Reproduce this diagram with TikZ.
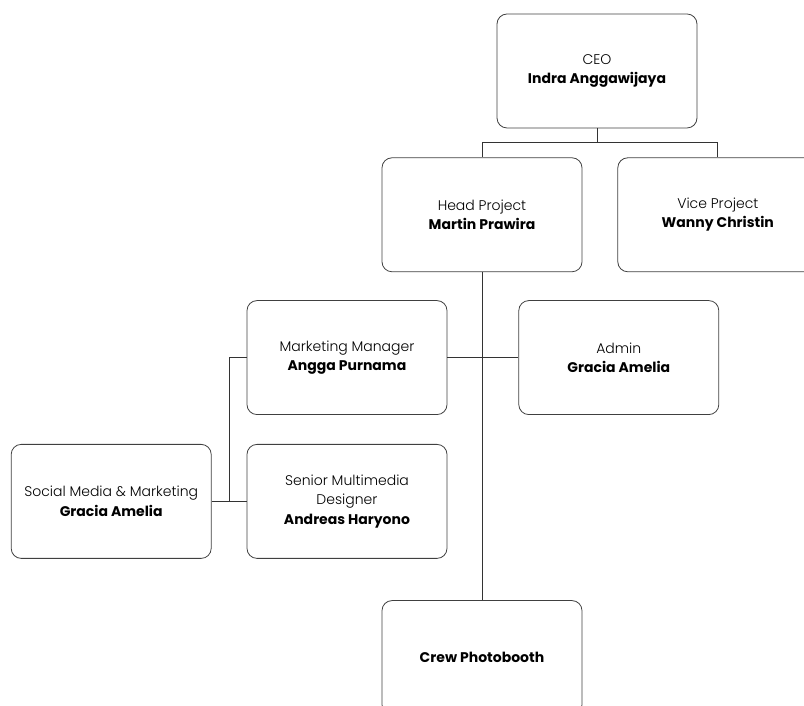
\documentclass[tikz,border=0pt]{standalone}
\usepackage{fontspec}
\setmainfont{Poppins}[UprightFont=* Light,BoldFont=* Bold]
\usetikzlibrary{positioning}
\tikzstyle{post}=[
	rectangle,
	rounded corners=10pt,
	draw=black!75,
	line width=0.8pt,
	minimum width=200pt,
	minimum height=114pt,
	inner sep=0pt,
	align=center,
	font=\fontsize{14}{19.5}\selectfont
]
\tikzstyle{link}=[
	draw=black!80,
	line width=0.7pt
]

\begin{document}
\begin{tikzpicture}
\useasboundingbox (0,0) rectangle (804pt,706pt);
\node [post] (CEO) at (597pt,635pt) {CEO\\\textbf{Indra Anggawijaya}};
\node [post] (HeadProject)[below=29pt of CEO, xshift=-115pt] {Head Project\\\textbf{Martin Prawira}};
\node [post] (ViceProject)[right=35pt of HeadProject] {Vice Project\\\textbf{Wanny Christin}};
\node [post] (MarketingMgr)[below=28pt of HeadProject, xshift=-135pt] {Marketing Manager\\\textbf{Angga Purnama}};
\node [post] (Admin)[right=71pt of MarketingMgr] {Admin\\\textbf{Gracia Amelia}};
\node [post] (SeniorDesigner)[below=29pt of MarketingMgr] {Senior Multimedia\\Designer\\\textbf{Andreas Haryono}};
\node [post] (SocialMedia)[left=35pt of SeniorDesigner] {Social Media \& Marketing\\\textbf{Gracia Amelia}};
\node [post] (Crew)[below=328pt of HeadProject] {\textbf{Crew Photobooth}};
% connectors
\coordinate [below=14pt of CEO.south] (fork);
\coordinate [left=17pt of MarketingMgr.west] (tap);
\draw [link] (CEO) -- (fork) -| (HeadProject);
\draw [link] (fork) -| (ViceProject);
\draw [link] (HeadProject) -- (Crew);
\draw [link] (MarketingMgr) -- (Admin);
\draw [link] (MarketingMgr) -- (tap) |- (SocialMedia);
\draw [link] (SocialMedia) -- (SeniorDesigner);
\end{tikzpicture}
\end{document}
